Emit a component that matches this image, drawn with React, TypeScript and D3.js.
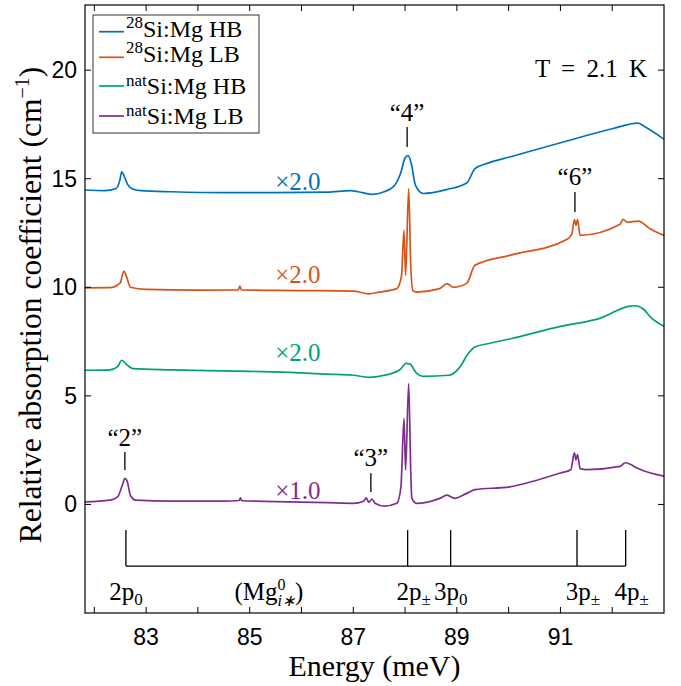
import React from "react";
import * as d3 from "d3";

// spectra: [energy (meV), absorption (cm^-1, offset)]
const si28HB: [number, number][] = [
  [81.82, 14.48], [82.2, 14.45], [82.42, 14.55], [82.49, 14.9], [82.53, 15.32], [82.58, 15.1],
  [82.64, 14.75], [82.72, 14.55], [82.9, 14.45], [83.5, 14.4], [84.5, 14.36], [85.5, 14.36],
  [86.5, 14.38], [86.95, 14.45], [87.1, 14.4], [87.35, 14.28], [87.6, 14.4], [87.8, 14.7],
  [87.92, 15.3], [88.0, 15.95], [88.06, 16.06], [88.12, 15.7], [88.2, 14.7], [88.35, 14.32],
  [88.8, 14.5], [89.19, 14.8], [89.35, 15.46], [89.6, 15.72], [90.02, 16.0], [91.14, 16.75],
  [92.0, 17.3], [92.5, 17.56], [92.64, 17.38], [93.0, 16.82],
];

const si28LB: [number, number][] = [
  [81.82, 9.97], [82.3, 9.98], [82.5, 10.2], [82.57, 10.75], [82.62, 10.5], [82.7, 10.0],
  [83.0, 9.9], [84.0, 9.87], [84.78, 9.88], [84.81, 10.05], [84.84, 9.88], [86.0, 9.85],
  [87.0, 9.82], [87.3, 9.7], [87.5, 9.78], [87.84, 9.94], [87.93, 10.5], [87.98, 12.62],
  [88.01, 10.55], [88.07, 14.54], [88.11, 11.0], [88.15, 9.85], [88.22, 9.78], [88.67, 9.94],
  [88.81, 10.17], [88.93, 10.0], [89.19, 10.18], [89.35, 11.01], [90.02, 11.47], [91.12, 12.2],
  [91.22, 12.45], [91.27, 13.12], [91.3, 12.85], [91.33, 13.12], [91.38, 12.39], [92.15, 12.9],
  [92.21, 13.13], [92.29, 13.0], [92.5, 13.05], [92.73, 12.7], [93.0, 12.39],
];

const natHB: [number, number][] = [
  [81.82, 6.18], [82.3, 6.2], [82.45, 6.35], [82.53, 6.64], [82.62, 6.45], [82.75, 6.25],
  [83.5, 6.2], [84.5, 6.15], [85.5, 6.1], [86.5, 6.0], [87.0, 5.95], [87.3, 5.85],
  [87.6, 5.95], [87.9, 6.2], [88.02, 6.5], [88.1, 6.45], [88.22, 6.05], [88.35, 5.9],
  [88.85, 5.95], [89.05, 6.3], [89.22, 6.95], [89.35, 7.25], [89.6, 7.4], [90.02, 7.62],
  [91.0, 8.2], [91.76, 8.57], [92.34, 9.13], [92.45, 9.15], [92.6, 9.0], [92.75, 8.6], [93.0, 8.2],
];

const natLB: [number, number][] = [
  [81.82, 0.12], [82.3, 0.2], [82.45, 0.35], [82.55, 0.95], [82.59, 1.2], [82.63, 1.1],
  [82.7, 0.4], [82.8, 0.2], [83.5, 0.15], [84.5, 0.15], [84.8, 0.18], [84.82, 0.3],
  [84.85, 0.17], [85.5, 0.13], [86.5, 0.08], [87.0, 0.05], [87.2, 0.15], [87.25, 0.3],
  [87.3, 0.1], [87.36, 0.25], [87.42, 0.05], [87.6, -0.08], [87.84, 0.05], [87.92, 0.8],
  [87.98, 3.96], [88.01, 1.58], [88.07, 5.57], [88.11, 1.5], [88.13, 0.3], [88.22, 0.05],
  [88.67, 0.28], [88.81, 0.43], [88.96, 0.28], [89.19, 0.51], [89.35, 0.68], [90.02, 0.81],
  [91.0, 1.45], [91.2, 1.6], [91.27, 2.37], [91.3, 2.05], [91.33, 2.3], [91.38, 1.65],
  [91.5, 1.6], [92.15, 1.75], [92.25, 1.92], [92.35, 1.85], [92.5, 1.65], [93.0, 1.3],
];

const seriesNames = ["28Si:Mg HB", "28Si:Mg LB", "natSi:Mg HB", "natSi:Mg LB"];
const seriesData = [si28HB, si28LB, natHB, natLB];
const colors = ["#0072BD", "#D95319", "#00A07C", "#7E2F8E"];
const scaleLabels = ["×2.0", "×2.0", "×2.0", "×1.0"];
const scaleLabelY = [14.5, 10.2, 6.6, 0.25];

const xTicks = [82, 83, 84, 85, 86, 87, 88, 89, 90, 91, 92];
const xTickLabels = [83, 85, 87, 89, 91];
const yTicks = [0, 5, 10, 15, 20];

// Mg_i0 transition positions (bracket)
const bracketE = [82.61, 88.05, 88.88, 91.32, 92.26];
const bracketMain = ["2p", "2p", "3p", "3p", "4p"];
const bracketSub = ["0", "±", "0", "±", "±"];

// quoted line markers: energy, line bottom, line top, text baseline
const markerText = ["“2”", "“3”", "“4”", "“6”"];
const markerE = [82.59, 87.34, 88.04, 91.28];
const markerLo = [1.58, 0.57, 16.46, 13.47];
const markerHi = [2.41, 1.44, 17.38, 14.39];
const markerTxt = [2.7, 1.76, 17.64, 14.69];

const W = 681;
const H = 686;
const m = { left: 85, right: 664, top: 5, bottom: 613 };
const serif = { fontFamily: "Liberation Serif, serif" };
const sans = { fontFamily: "Liberation Sans, sans-serif" };

const App = () => {
  const x = d3.scaleLinear().domain([81.82, 93.0]).range([m.left, m.right]);
  const y = d3.scaleLinear().domain([-5, 23]).range([m.bottom, m.top]);

  const line = d3
    .line<[number, number]>()
    .x((d) => x(d[0]))
    .y((d) => y(d[1]))
    .curve(d3.curveMonotoneX);

  const tick = 6;
  const brTop = y(-1.18);
  const brBot = y(-2.84);
  const brText = y(-4.4);

  return (
    <svg
      width={W}
      height={H}
      style={{ position: "absolute", left: 0, top: 0, background: "#fff" }}
    >
      <defs>
        <clipPath id="plot">
          <rect x={m.left} y={m.top} width={m.right - m.left} height={m.bottom - m.top} />
        </clipPath>
      </defs>

      <g clipPath="url(#plot)">
        {seriesData.map((d, i) => (
          <path key={i} d={line(d) || ""} fill="none" stroke={colors[i]} strokeWidth={1.7} />
        ))}
      </g>

      {/* scale factor labels */}
      {scaleLabels.map((t, i) => (
        <text key={i} x={x(85.93)} y={y(scaleLabelY[i])} fill={colors[i]} style={serif}
          fontSize={25} textAnchor="middle">{t}</text>
      ))}

      {/* line markers */}
      {markerText.map((t, i) => (
        <g key={i}>
          <line x1={x(markerE[i])} x2={x(markerE[i])} y1={y(markerLo[i])} y2={y(markerHi[i])}
            stroke="#000" strokeWidth={1.3} />
          <text x={x(markerE[i])} y={y(markerTxt[i])} style={serif} fontSize={25}
            textAnchor="middle">{t}</text>
        </g>
      ))}

      {/* transition bracket */}
      <line x1={x(bracketE[0])} x2={x(bracketE[bracketE.length - 1])} y1={brBot} y2={brBot}
        stroke="#000" strokeWidth={1.3} />
      {bracketE.map((e, i) => (
        <g key={i}>
          <line x1={x(e)} x2={x(e)} y1={brTop} y2={brBot} stroke="#000" strokeWidth={1.3} />
          <text x={x(e) + (bracketSub[i] === "±" ? 6 : 0)} y={brText} style={serif}
            fontSize={25} textAnchor="middle">
            {bracketMain[i]}
            <tspan fontSize={17} dy={5}>{bracketSub[i]}</tspan>
          </text>
        </g>
      ))}
      <text x={x(85.37)} y={brText} style={serif} fontSize={25} textAnchor="middle">
        (Mg
        <tspan fontSize={16} dy={-10}>0</tspan>
        <tspan fontSize={16} dx={-8} dy={16} fontStyle="italic">i∗</tspan>
        <tspan dy={-6}>)</tspan>
      </text>

      <text x={647} y={77} style={serif} fontSize={25} wordSpacing={5} textAnchor="end">
        T = 2.1 K
      </text>

      {/* axes box + inward ticks */}
      <rect x={m.left} y={m.top} width={m.right - m.left} height={m.bottom - m.top}
        fill="none" stroke="#000" strokeWidth={1.2} />
      {xTicks.map((t) => (
        <g key={t}>
          <line x1={x(t)} x2={x(t)} y1={m.bottom} y2={m.bottom - tick} stroke="#000" />
          <line x1={x(t)} x2={x(t)} y1={m.top} y2={m.top + tick} stroke="#000" />
        </g>
      ))}
      {xTickLabels.map((t) => (
        <text key={t} x={x(t)} y={645} style={sans} fontSize={23} textAnchor="middle">{t}</text>
      ))}
      {yTicks.map((t) => (
        <g key={t}>
          <line x1={m.left} x2={m.left + tick} y1={y(t)} y2={y(t)} stroke="#000" />
          <line x1={m.right} x2={m.right - tick} y1={y(t)} y2={y(t)} stroke="#000" />
          <text x={77} y={y(t) + 8} style={sans} fontSize={23} textAnchor="end">{t}</text>
        </g>
      ))}

      <text x={(m.left + m.right) / 2} y={676} style={serif} fontSize={30} textAnchor="middle">
        Energy (meV)
      </text>
      <text transform={`translate(41, 305) rotate(-90)`} style={serif} fontSize={31.5}
        textAnchor="middle">
        Relative absorption coefficient (cm
        <tspan fontSize={20} dy={-12}>−1</tspan>
        <tspan dy={12}>)</tspan>
      </text>

      {/* legend */}
      <rect x={93} y={15} width={166} height={118} fill="#fff" stroke="#333" strokeWidth={1} />
      {seriesNames.map((name, i) => {
        const ly = [31.7, 57.3, 86, 116][i];
        const nat = name.startsWith("nat");
        const sup = nat ? "nat" : "28";
        const rest = name.slice(sup.length);
        return (
          <g key={name}>
            <line x1={99} x2={124} y1={ly} y2={ly} stroke={colors[i]} strokeWidth={1.7} />
            <text x={126} y={nat ? ly + 7.5 : ly + 5} style={serif} fontSize={24}>
              <tspan fontSize={17} dy={nat ? -8 : -9}>{sup}</tspan>
              <tspan dy={nat ? 8 : 9}>{rest}</tspan>
            </text>
          </g>
        );
      })}
    </svg>
  );
};

export default App;
